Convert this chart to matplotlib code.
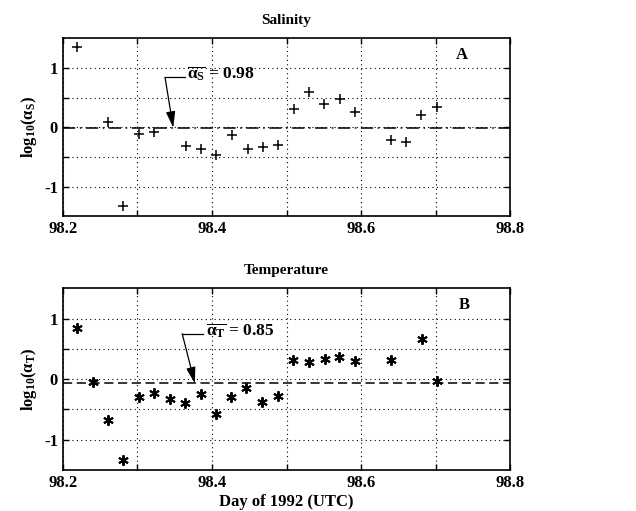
import numpy as np
import matplotlib
matplotlib.use("Agg")
import matplotlib.pyplot as plt

plt.rcParams['font.family'] = ['Liberation Serif', 'DejaVu Serif']
plt.rcParams['font.weight'] = 'bold'
plt.rcParams['mathtext.fontset'] = 'custom'
plt.rcParams['mathtext.rm'] = 'Liberation Serif:bold'
plt.rcParams['mathtext.it'] = 'Liberation Serif:bold'
plt.rcParams['mathtext.bf'] = 'Liberation Serif:bold'

# salinity ratio (log10), panel A
sal_day = [98.219, 98.260, 98.281, 98.302, 98.322, 98.365, 98.385, 98.406,
           98.427, 98.448, 98.468, 98.489, 98.510, 98.530, 98.550, 98.572,
           98.592, 98.640, 98.660, 98.681, 98.702]
sal_log = [1.36, 0.08, -1.33, -0.12, -0.08, -0.31, -0.36, -0.47,
           -0.13, -0.37, -0.33, -0.30, 0.30, 0.60, 0.40, 0.47,
           0.26, -0.21, -0.25, 0.21, 0.34]
sal_mean = 0.98

# temperature ratio (log10), panel B
tmp_day = [98.219, 98.240, 98.260, 98.281, 98.302, 98.322, 98.343, 98.364,
           98.385, 98.405, 98.426, 98.446, 98.467, 98.488, 98.509, 98.530,
           98.551, 98.571, 98.592, 98.640, 98.682, 98.702]
tmp_log = [0.84, -0.04, -0.67, -1.33, -0.29, -0.22, -0.33, -0.40,
           -0.25, -0.57, -0.30, -0.14, -0.37, -0.27, 0.32, 0.28,
           0.33, 0.36, 0.30, 0.31, 0.67, -0.03]
tmp_mean = 0.85

xticks = [98.2, 98.3, 98.4, 98.5, 98.6, 98.7, 98.8]
xlabels = ['98.2', '', '98.4', '', '98.6', '', '98.8']
yticks = [-1, -0.5, 0, 0.5, 1]
ylabels = ['-1', '', '0', '', '1']

fig = plt.figure(figsize=(6.36, 5.11), dpi=100)
axA = fig.add_axes([0.099, 0.577, 0.703, 0.348])
axB = fig.add_axes([0.099, 0.080, 0.703, 0.356])


def style(ax):
    ax.set_xlim(98.2, 98.8)
    ax.set_ylim(-1.5, 1.5)
    ax.set_xticks(xticks)
    ax.set_xticklabels(xlabels, fontsize=12, fontweight='bold')
    ax.set_yticks(yticks)
    ax.set_yticklabels(ylabels, fontsize=12, fontweight='bold')
    ax.tick_params(direction='in', top=True, right=True, length=4, width=1)
    ax.grid(True, linestyle=(0, (1, 3)), color='black', linewidth=0.8)
    for s in ax.spines.values():
        s.set_linewidth(1.2)


style(axA)
axA.plot(sal_day, sal_log, linestyle='none', marker='+', color='black',
         markersize=7, markeredgewidth=1.1)
axA.axhline(np.log10(sal_mean), color='black', linestyle=(0, (8, 3, 1, 3)),
            linewidth=1.1)
axA.set_title('Salinity', fontsize=11, fontweight='bold', pad=10)
axA.set_ylabel(r'log$_{10}$($\alpha_S$)', fontsize=12, fontweight='bold')
axA.text(98.366, 0.9, r'$\overline{\alpha_S}$ = %.2f' % sal_mean,
         fontsize=12.5, fontweight='bold', va='center')
axA.plot([98.337, 98.364], [0.84, 0.84], color='black', linewidth=0.9)
axA.annotate('', xy=(98.348, np.log10(sal_mean)), xytext=(98.337, 0.84),
             arrowprops=dict(arrowstyle='-|>,head_length=0.7,head_width=0.2',
                             color='black', lw=0.9,
                             mutation_scale=14, shrinkA=0, shrinkB=0))
axA.text(98.735, 1.22, 'A', fontsize=12, fontweight='bold',
         ha='center', va='center')

style(axB)
axB.plot(tmp_day, tmp_log, linestyle='none', marker=(6, 2, 0), color='black',
         markersize=7.5, markeredgewidth=1.4)
axB.axhline(np.log10(tmp_mean), color='black', linestyle=(0, (6, 3)),
            linewidth=1.1)
axB.set_title('Temperature', fontsize=11, fontweight='bold', pad=10)
axB.set_ylabel(r'log$_{10}$($\alpha_T$)', fontsize=12, fontweight='bold')
axB.set_xlabel('Day of 1992 (UTC)', fontsize=12, fontweight='bold', labelpad=2)
axB.text(98.392, 0.79, r'$\overline{\alpha_T}$ = %.2f' % tmp_mean,
         fontsize=12.5, fontweight='bold', va='center')
axB.plot([98.360, 98.388], [0.75, 0.75], color='black', linewidth=0.9)
axB.annotate('', xy=(98.377, np.log10(tmp_mean)), xytext=(98.360, 0.75),
             arrowprops=dict(arrowstyle='-|>,head_length=0.7,head_width=0.2',
                             color='black', lw=0.9,
                             mutation_scale=14, shrinkA=0, shrinkB=0))
axB.text(98.738, 1.22, 'B', fontsize=12, fontweight='bold',
         ha='center', va='center')

fig.savefig('out.png', dpi=100)
